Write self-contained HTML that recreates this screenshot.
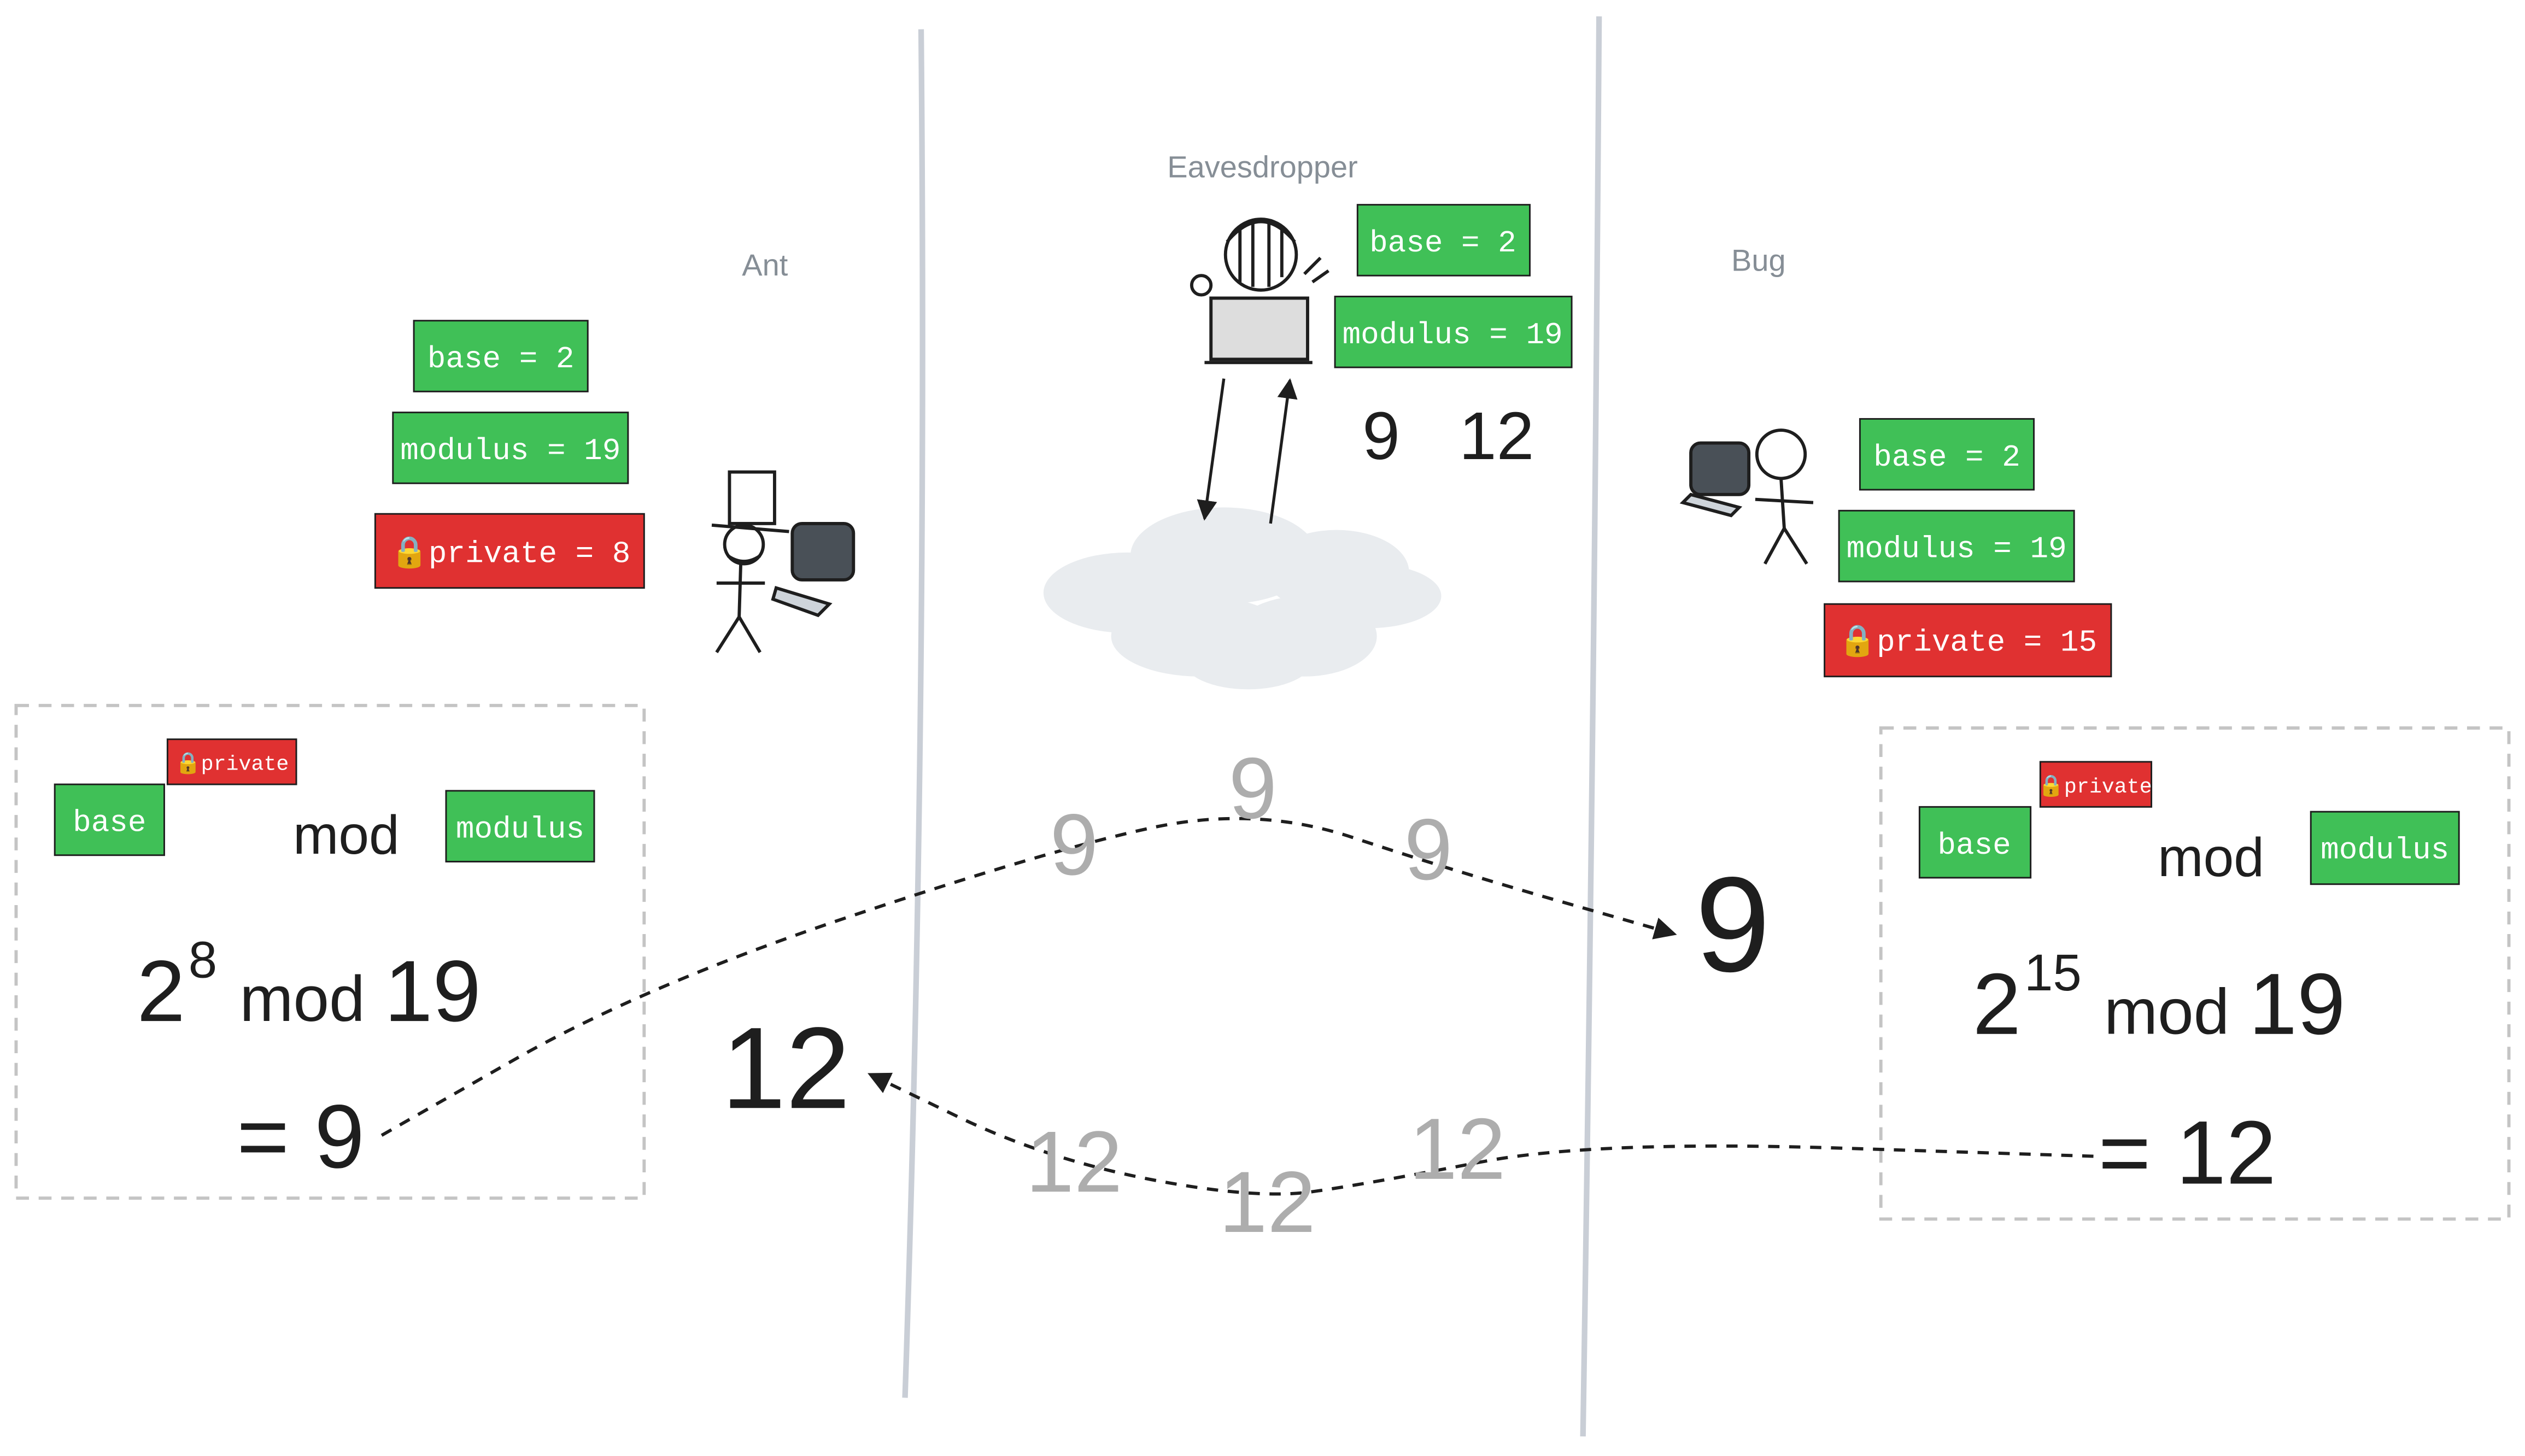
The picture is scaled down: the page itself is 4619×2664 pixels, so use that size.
<!DOCTYPE html>
<html><head><meta charset="utf-8">
<style>
html,body{margin:0;padding:0;background:#fff;}
svg{display:block;}
.mono{font-family:"Liberation Mono","DejaVu Sans Mono",monospace;fill:#ffffff;}
.sans{font-family:"Liberation Sans","DejaVu Sans",sans-serif;}
</style></head>
<body>
<svg id="c" width="4619" height="2664" viewBox="0 0 1568 904" xmlns="http://www.w3.org/2000/svg">
<defs>
<marker id="ah" viewBox="0 0 10 10" refX="9" refY="5" markerWidth="7" markerHeight="7" orient="auto"><path d="M0,0 L10,5 L0,10 z" fill="#1e1e1e"/></marker>
</defs>
<path d="M572,18 Q576,450 562,868" stroke="#c9ced6" stroke-width="3.5" fill="none"/>
<path d="M993,10 Q990,450 983,892" stroke="#c9ced6" stroke-width="3.5" fill="none"/>

<text x="475" y="171" class="sans" font-size="19" fill="#868e96" text-anchor="middle">Ant</text>
<text x="784" y="110" class="sans" font-size="19" fill="#868e96" text-anchor="middle">Eavesdropper</text>
<text x="1092" y="168" class="sans" font-size="19" fill="#868e96" text-anchor="middle">Bug</text>

<g fill="#e9ecef">
<ellipse cx="700" cy="368" rx="52" ry="25"/><ellipse cx="760" cy="345" rx="58" ry="30"/><ellipse cx="830" cy="355" rx="45" ry="26"/>
<ellipse cx="850" cy="370" rx="45" ry="20"/><ellipse cx="745" cy="395" rx="55" ry="25"/><ellipse cx="810" cy="395" rx="45" ry="25"/><ellipse cx="775" cy="410" rx="40" ry="18"/>
</g>
<line x1="760" y1="235" x2="748" y2="322" stroke="#1e1e1e" stroke-width="1.8" marker-end="url(#ah)"/>
<line x1="789" y1="325" x2="801" y2="236" stroke="#1e1e1e" stroke-width="1.8" marker-end="url(#ah)"/>

<g stroke="#1e1e1e" stroke-width="2" fill="none">
<circle cx="783" cy="158" r="22"/><path d="M762,150 Q783,125 804,150 M770,140 L770,175 M778,138 L778,178 M788,138 L788,178 M796,142 L796,172"/>
<rect x="752" y="185" width="60" height="38" fill="#ddd"/><path d="M748,225 L815,225"/><circle cx="746" cy="177" r="6"/><path d="M810,170 L820,160 M815,175 L825,168"/>
</g>
<g stroke="#1e1e1e" stroke-width="2" fill="none">
<rect x="453" y="293" width="28" height="32" fill="#fff"/><line x1="442" y1="326" x2="490" y2="330"/>
<circle cx="462" cy="338" r="12"/><path d="M452,345 Q462,352 472,345"/><line x1="460" y1="350" x2="459" y2="383"/>
<path d="M445,362 L475,362 M459,383 L445,405 M459,383 L472,405"/>
<rect x="492" y="325" width="38" height="35" rx="6" fill="#495057"/><path d="M482,365 L515,375 L508,382 L480,372 Z" fill="#ced4da"/>
</g>
<g stroke="#1e1e1e" stroke-width="2" fill="none">
<circle cx="1106" cy="282" r="15" fill="#fff"/><line x1="1106" y1="297" x2="1108" y2="328"/><path d="M1090,310 L1126,312 M1108,328 L1096,350 M1108,328 L1122,350"/>
<rect x="1050" y="275" width="36" height="32" rx="6" fill="#495057"/><path d="M1045,312 L1075,320 L1080,315 L1050,307 Z" fill="#ced4da"/>
</g>

<g stroke="#1e1e1e" stroke-width="1">
<rect x="257" y="199" width="108" height="44" fill="#40c057"/>
<rect x="244" y="256" width="146" height="44" fill="#40c057"/>
<rect x="233" y="319" width="167" height="46" fill="#e03131"/>
<rect x="843" y="127" width="107" height="44" fill="#40c057"/>
<rect x="829" y="184" width="147" height="44" fill="#40c057"/>
<rect x="1155" y="260" width="108" height="44" fill="#40c057"/>
<rect x="1142" y="317" width="146" height="44" fill="#40c057"/>
<rect x="1133" y="375" width="178" height="45" fill="#e03131"/>
<rect x="34" y="487" width="68" height="44" fill="#40c057"/>
<rect x="104" y="459" width="80" height="28" fill="#e03131"/>
<rect x="277" y="491" width="92" height="44" fill="#40c057"/>
<rect x="1192" y="501" width="69" height="44" fill="#40c057"/>
<rect x="1267" y="473" width="69" height="28" fill="#e03131"/>
<rect x="1435" y="504" width="92" height="45" fill="#40c057"/>
</g>
<g class="mono" font-size="19" fill="#ffffff" text-anchor="middle">
<text x="311" y="228" fill="#ffffff">base = 2</text>
<text x="317" y="285" fill="#ffffff">modulus = 19</text>
<text x="317" y="349" fill="#ffffff">🔒private = 8</text>
<text x="896" y="156" fill="#ffffff">base = 2</text>
<text x="902" y="213" fill="#ffffff">modulus = 19</text>
<text x="1209" y="289" fill="#ffffff">base = 2</text>
<text x="1215" y="346" fill="#ffffff">modulus = 19</text>
<text x="1222" y="404" fill="#ffffff">🔒private = 15</text>
<text x="68" y="516" fill="#ffffff">base</text>
<text x="323" y="520" fill="#ffffff">modulus</text>
<text x="1226" y="530" fill="#ffffff">base</text>
<text x="1481" y="533" fill="#ffffff">modulus</text>
<text x="144" y="478" font-size="13" fill="#ffffff">🔒private</text>
<text x="1301" y="492" font-size="13" fill="#ffffff">🔒private</text>
</g>

<rect x="10" y="438" width="390" height="306" fill="none" stroke="#c4c4c4" stroke-width="2" stroke-dasharray="8 6"/>
<rect x="1168" y="452" width="390" height="305" fill="none" stroke="#c4c4c4" stroke-width="2" stroke-dasharray="8 6"/>
<text x="215" y="530" class="sans" font-size="34" fill="#1e1e1e" text-anchor="middle">mod</text>
<text x="1373" y="544" class="sans" font-size="34" fill="#1e1e1e" text-anchor="middle">mod</text>
<text x="85" y="634" class="sans" font-size="54" fill="#1e1e1e">2<tspan font-size="32" dy="-27" dx="2">8</tspan><tspan font-size="40" dy="27" dx="14">mod</tspan><tspan dx="12">19</tspan></text>
<text x="147" y="725" class="sans" font-size="56" fill="#1e1e1e">= 9</text>
<text x="1225" y="642" class="sans" font-size="54" fill="#1e1e1e">2<tspan font-size="32" dy="-27" dx="2">15</tspan><tspan font-size="40" dy="27" dx="14">mod</tspan><tspan dx="12">19</tspan></text>
<text x="1303" y="735" class="sans" font-size="56" fill="#1e1e1e">= 12</text>

<text id="eveA" x="846" y="285" class="sans" font-size="42" fill="#1e1e1e"></text>
<text id="eveB" x="906" y="285" class="sans" font-size="42" fill="#1e1e1e"></text>
<text id="big12" x="488" y="688" class="sans" font-size="72" fill="#1e1e1e" text-anchor="middle"></text>
<text id="big9" x="1076" y="603" class="sans" font-size="84" fill="#1e1e1e" text-anchor="middle"></text>
<g id="flows"></g>
</svg>
<script>
const antPublic = [9];
const bugPublic = [12];
const flowToBug = [[237,705],[400,612],[650,528],[780,500],[900,540],[1040,580]];
const flowToAnt = [[1300,718],[990,708],[850,735],[780,745],[650,720],[540,667]];
const ghostToBug = [[667,543],[778,508],[887,546]];
const ghostToAnt = [[667,740],[787,765],[905,732]];
const NS='http://www.w3.org/2000/svg';
document.getElementById('eveA').textContent=String(antPublic[0]);
document.getElementById('eveB').textContent=String(bugPublic[0]);
document.getElementById('big12').textContent=String(bugPublic[0]);
document.getElementById('big9').textContent=String(antPublic[0]);
const fl=document.getElementById('flows');
function curve(pts){let d='M'+pts[0][0]+','+pts[0][1];
 for(let i=1;i<pts.length;i++){const p=pts[i-1],q=pts[i];const mx=(p[0]+q[0])/2,my=(p[1]+q[1])/2;
  d+=(i==1?' L':' Q'+p[0]+','+p[1]+' ')+mx+','+my;}
 const l=pts[pts.length-1];d+=' L'+l[0]+','+l[1];return d;}
[[flowToBug,'flow-ant-to-bug'],[flowToAnt,'flow-bug-to-ant']].forEach(f=>{
 const p=document.createElementNS(NS,'path');
 
 
 p.setAttribute('d',curve(f[0]));p.setAttribute('fill','none');p.setAttribute('stroke','#1e1e1e');
 p.setAttribute('stroke-width','2');p.setAttribute('stroke-dasharray','7 6');p.setAttribute('marker-end','url(#ah)');
 fl.appendChild(p);
});
[[ghostToBug,antPublic[0],'in-transit-9'],[ghostToAnt,bugPublic[0],'in-transit-12']].forEach(s=>{
 s[0].forEach(pt=>{
  const t=document.createElementNS(NS,'text');
  
  
  t.setAttribute('x',String(pt[0]));t.setAttribute('y',String(pt[1]));t.setAttribute('text-anchor','middle');
  t.setAttribute('class','sans');t.setAttribute('font-size','54');t.setAttribute('fill','#adadad');
  t.textContent=String(s[1]);fl.appendChild(t);
 });
});
</script>
</body></html>
